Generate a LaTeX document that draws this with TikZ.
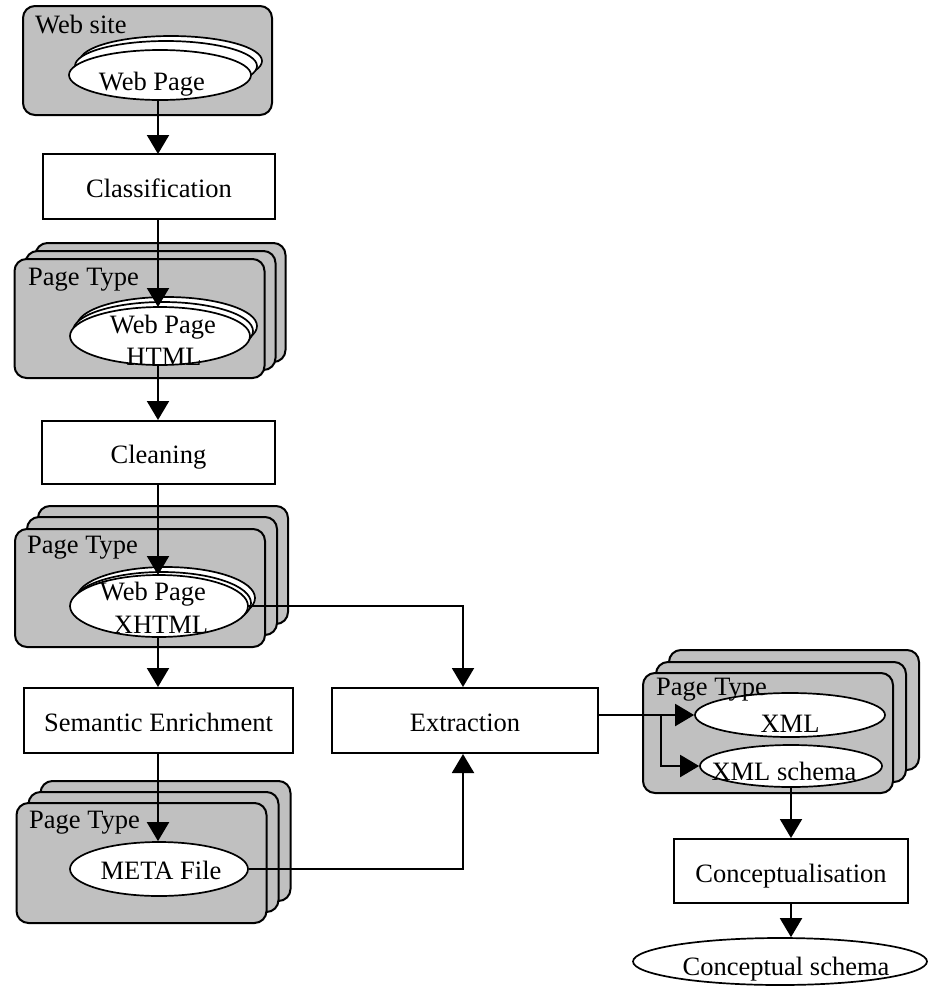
\documentclass[tikz,border=0pt]{standalone}
\usepackage{fontspec}
\setmainfont{Liberation Serif}
\usetikzlibrary{arrows.meta,shapes.geometric}
\definecolor{panelgray}{HTML}{C0C0C0}
\begin{document}
\begin{tikzpicture}[x=1pt,y=-1pt,
  every node/.style={font=\fontsize{26.5}{32}\selectfont},
  arr/.style={line width=2pt,-{Triangle[width=22pt,length=19pt]}},
  procbox/.style={draw,line width=2pt,fill=white,inner sep=0pt,text height=22pt,text depth=0pt},
  panel/.style={draw,line width=2pt,fill=panelgray,rounded corners=12pt,inner sep=0pt,minimum width=250pt,minimum height=119pt},
  doc/.style={draw,line width=1.7pt,fill=white,ellipse,inner sep=0pt},
  lbl/.style={anchor=base west,inner sep=0pt},
  txt/.style={anchor=base,inner sep=0pt}]
\useasboundingbox (0,0) rectangle (929,986);

% ---------- Web site ----------
\node[panel,minimum width=249pt,minimum height=109pt] (ws) at (147.5,60.5) {};
\node[doc,minimum width=182pt,minimum height=50pt] (we3) at (171,61) {};
\node[doc,minimum width=182pt,minimum height=50pt] (we2) at (166,66) {};
\node[doc,minimum width=182pt,minimum height=50pt] (we1) at (160,75) {};
\node[txt] (we1t) at (152,90) {Web Page};
\node[lbl] (wsl) at (35,33) {Web site};

% ---------- Classification ----------
\node[procbox,minimum width=232pt,minimum height=65pt] (cls) at (159,186.5) {Classification};

% ---------- Page Type stack 1 ----------
\node[panel] (p1c) at (160.5,302.5) {};
\node[panel] (p1b) at (150.5,310.5) {};
\node[panel] (p1a) at (139.5,318.5) {};
\node[doc,minimum width=180pt,minimum height=58pt] (h3) at (167,326) {};
\node[doc,minimum width=180pt,minimum height=58pt] (h2) at (163,331) {};
\node[doc,minimum width=180pt,minimum height=58pt] (h1) at (160,336) {};
\node[txt] (h1t) at (163,333) {Web Page};
\node[txt] (h1u) at (164,365) {HTML};
\node[lbl] (p1l) at (28,285) {Page Type};

% ---------- Cleaning ----------
\node[procbox,minimum width=233pt,minimum height=63pt] (cln) at (158.5,452.5) {Cleaning};

% ---------- Page Type stack 2 ----------
\node[panel,minimum height=118pt] (p2c) at (163,565) {};
\node[panel,minimum height=118pt] (p2b) at (152,576) {};
\node[panel,minimum height=118pt] (p2a) at (140,588) {};
\node[doc,minimum width=178pt,minimum height=62pt] (x3) at (166,598) {};
\node[doc,minimum width=178pt,minimum height=62pt] (x2) at (162,603) {};
\node[doc,minimum width=178pt,minimum height=62pt] (x1) at (159,606) {};
\node[txt] (x1t) at (153,600) {Web Page};
\node[txt] (x1u) at (161,633) {XHTML};
\node[lbl] (p2l) at (27,553) {Page Type};

% ---------- Semantic Enrichment / Extraction ----------
\node[procbox,minimum width=269pt,minimum height=65pt] (sem) at (158.5,720.5) {Semantic Enrichment};
\node[procbox,minimum width=266pt,minimum height=65pt] (ext) at (465,720.5) {Extraction};

% ---------- Page Type stack 3 ----------
\node[panel,minimum height=120pt] (p3c) at (165.5,841) {};
\node[panel,minimum height=120pt] (p3b) at (153.5,852) {};
\node[panel,minimum height=120pt] (p3a) at (141.5,863) {};
\node[doc,minimum width=178pt,minimum height=54pt] (meta) at (159,869) {};
\node[txt] (metat) at (161,879) {META File};
\node[lbl] (p3l) at (29,828) {Page Type};

% ---------- Page Type stack 4 ----------
\node[panel,minimum height=120pt] (p4c) at (794,710) {};
\node[panel,minimum height=120pt] (p4b) at (781,722) {};
\node[panel,minimum height=120pt] (p4a) at (768,733) {};
\node[doc,minimum width=190pt,minimum height=44pt] (xml) at (790,715) {};
\node[doc,minimum width=182pt,minimum height=42pt] (xsch) at (791,766) {};
\node[txt] (xmlt) at (790,732) {XML};
\node[txt] (xscht) at (784,780) {XML schema};
\node[lbl] (p4l) at (656,695) {Page Type};

% ---------- Conceptualisation ----------
\node[procbox,minimum width=234pt,minimum height=64pt] (con) at (791,871) {Conceptualisation};
\node[doc,minimum width=294pt,minimum height=47pt] (cs) at (780,961.5) {};
\node[txt] (cst) at (786,975) {Conceptual schema};

% ---------- connectors ----------
\coordinate (br) at (661,715);
\draw[arr] (158,100) -- (158,154);
\draw[arr] (cls.south -| 158,0) -- (158,307);
\draw[arr] (158,365) -- (cln.north -| 158,0);
\draw[arr] (cln.south -| 158,0) -- (158,575);
\draw[arr] (158,637) -- (sem.north -| 158,0);
\draw[arr] (x1.east) -| (ext.north -| 463,0);
\draw[arr] (sem.south -| 158,0) -- (meta.north -| 158,0);
\draw[arr] (meta.east) -| (ext.south -| 463,0);
\draw[arr] (ext.east |- xml.west) -- (xml.west);
\draw[arr] (br) |- (xsch.west);
\draw[arr] (xsch.south -| con.north) -- (con.north);
\draw[arr] (con.south) -- (cs.north -| con.south);
\end{tikzpicture}
\end{document}
